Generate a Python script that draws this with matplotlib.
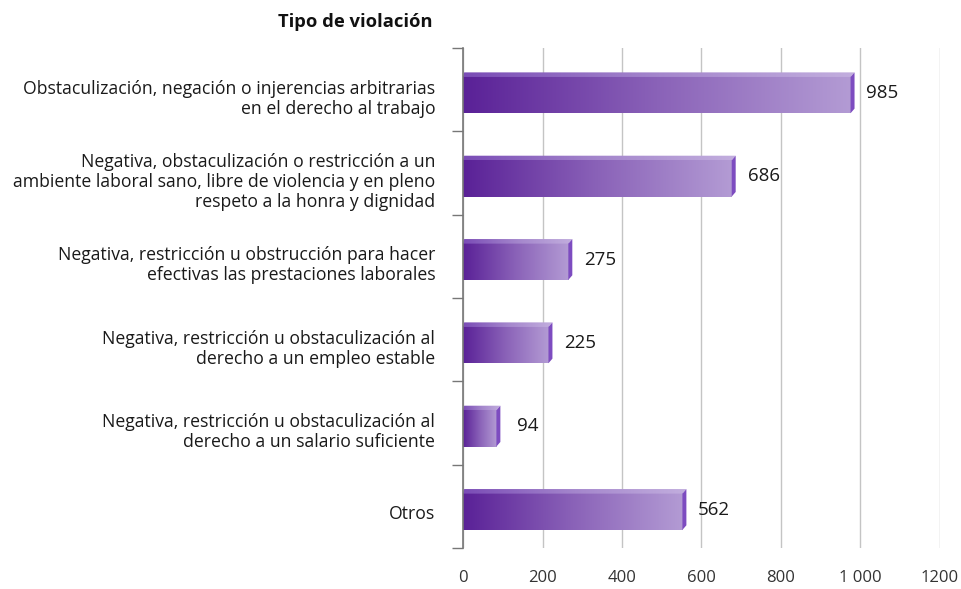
import matplotlib.pyplot as plt
import numpy as np
from matplotlib.patches import Polygon
from matplotlib.colors import LinearSegmentedColormap
from matplotlib.transforms import ScaledTranslation

plt.rcParams['font.family'] = ['Open Sans', 'DejaVu Sans']

categories = [
    "Obstaculización, negación o injerencias arbitrarias\nen el derecho al trabajo",
    "Negativa, obstaculización o restricción a un\nambiente laboral sano, libre de violencia y en pleno\nrespeto a la honra y dignidad",
    "Negativa, restricción u obstrucción para hacer\nefectivas las prestaciones laborales",
    "Negativa, restricción u obstaculización al\nderecho a un empleo estable",
    "Negativa, restricción u obstaculización al\nderecho a un salario suficiente",
    "Otros",
]
values = [985, 686, 275, 225, 94, 562]
xticks = [0, 200, 400, 600, 800, 1000, 1200]
xtick_labels = ["0", "200", "400", "600", "800", "1 000", "1200"]

front_cmap = LinearSegmentedColormap.from_list("front", ["#5a2197", "#8a62b8", "#b39bd4"])
top_cmap = LinearSegmentedColormap.from_list("top", ["#7a4cb6", "#a486cc", "#c2aede"])

fig = plt.figure(figsize=(9.62, 5.89), dpi=100)
ax = fig.add_axes([463 / 962, 1 - 548 / 589, 477 / 962, 500 / 589])

ax.set_xlim(0, 1200)
ax.set_ylim(len(values) - 0.5, -0.5)

# bar geometry (data units)
off = 0.065      # front face shifted down
h = 0.435        # front face height
dx = 10          # depth in x
dy = 0.055       # depth in y

grad = np.linspace(0, 1, 256).reshape(1, -1)
for i, v in enumerate(values):
    top = i + off - h / 2
    bot = i + off + h / 2
    fv = v - dx
    # front face
    ax.imshow(grad, cmap=front_cmap, extent=[0, fv, bot, top], aspect='auto',
              zorder=3, interpolation='bilinear')
    # top face
    ptop = Polygon([(0, top), (fv, top), (v, top - dy), (dx * 0.3, top - dy)],
                   closed=True, facecolor='none', edgecolor='none')
    ax.add_patch(ptop)
    im = ax.imshow(grad, cmap=top_cmap, extent=[0, v, top, top - dy], aspect='auto',
                   zorder=3, interpolation='bilinear')
    im.set_clip_path(ptop)
    # right face
    ax.add_patch(Polygon([(fv, top), (v, top - dy), (v, bot - dy), (fv, bot)],
                         closed=True, facecolor='#7d4cc0', edgecolor='none', zorder=3))
    ax.text(v + 70, i + 0.04, str(v), ha='center', va='center', fontsize=13.5,
            color='#1a1a1a', zorder=4)

ax.set_xticks(xticks)
ax.set_xticklabels(xtick_labels, fontsize=12, color='#333333')
ax.tick_params(axis='x', length=0, pad=16)
ax.grid(axis='x', color='#c4c4c4', linewidth=1, zorder=0)
ax.set_axisbelow(True)

ax.set_yticks(range(len(values)))
ax.set_yticklabels(categories, fontsize=12.7, color='#1a1a1a', linespacing=1.15)
ax.set_yticks(np.arange(-0.5, len(values)), minor=True)
ax.tick_params(axis='y', which='major', length=0, pad=20)
ax.tick_params(axis='y', which='minor', length=8, color='#777777', width=1)
shift = ScaledTranslation(0, -6 / 100, fig.dpi_scale_trans)
for lab in ax.get_yticklabels():
    lab.set_transform(lab.get_transform() + shift)

for s in ['top', 'right', 'bottom']:
    ax.spines[s].set_visible(False)
ax.spines['left'].set_color('#777777')
ax.spines['left'].set_linewidth(1.2)
ax.spines['left'].set_zorder(5)

fig.text(433 / 962, 1 - 22 / 589, "Tipo de violación", ha='right', va='center',
         fontsize=13.2, fontweight='bold', color='#111111')

fig.savefig("out.png", dpi=100)
